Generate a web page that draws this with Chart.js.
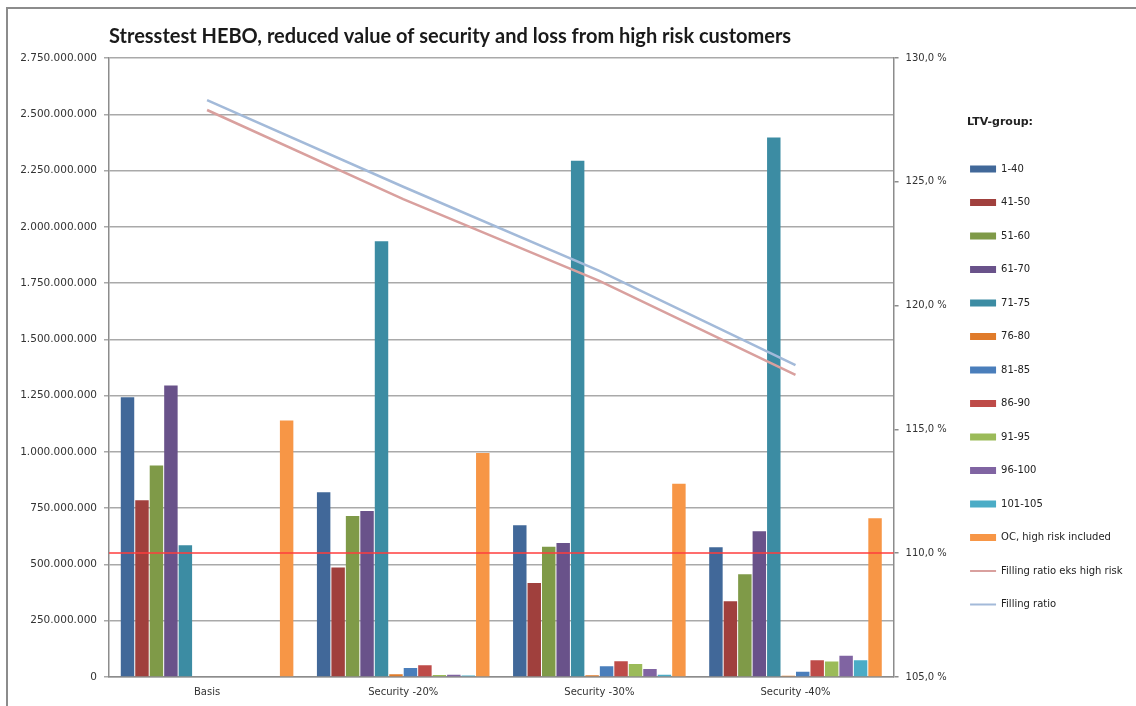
<!DOCTYPE html>
<html>
<head>
<meta charset="utf-8">
<script src="https://cdn.jsdelivr.net/npm/chart.js@4/dist/chart.umd.min.js"></script>
<style>
  html, body { margin: 0; padding: 0; background: #ffffff; }
  #wrap { width: 1136px; height: 706px; position: relative; }
</style>
</head>
<body>
<div id="wrap"><canvas id="chart" width="1136" height="706"></canvas></div>
<script>
// Scenarios on the category axis
const categories = ['Basis', 'Security -20%', 'Security -30%', 'Security -40%'];

// LTV groups (legend labels for the bar series)
const ltvGroups = ['1-40', '41-50', '51-60', '61-70', '71-75', '76-80', '81-85', '86-90', '91-95', '96-100', '101-105'];

// Amount per LTV group and scenario
const ltv_1_40    = [1243000000,  821000000,  674000000,  576000000];
const ltv_41_50   = [ 785000000,  486000000,  418000000,  337000000];
const ltv_51_60   = [ 940000000,  715000000,  579000000,  457000000];
const ltv_61_70   = [1295000000,  737000000,  595000000,  647000000];
const ltv_71_75   = [ 585000000, 1936000000, 2293000000, 2397000000];
const ltv_76_80   = [         0,   12000000,    8000000,    6000000];
const ltv_81_85   = [         0,   40000000,   48000000,   23000000];
const ltv_86_90   = [         0,   52000000,   70000000,   74000000];
const ltv_91_95   = [         0,    9000000,   58000000,   69000000];
const ltv_96_100  = [         0,   10000000,   35000000,   94000000];
const ltv_101_105 = [         0,    7000000,   10000000,   74000000];

// Over-collateralisation including high risk customers
const ocHighRisk = [1140000000, 995000000, 858000000, 705000000];

// Filling ratios (percent, right axis)
const fillingRatioEksHighRisk = [127.9, 124.3, 121.0, 117.2];
const fillingRatio            = [128.3, 124.8, 121.4, 117.6];

// Minimum required filling ratio (percent, right axis)
const minFillingRatio = 110;

// Axis ranges and tick steps
const amountAxis = { min: 0, max: 2750000000, step: 250000000 };
const ratioAxis  = { min: 105, max: 130, step: 5 };

const ltvValues = [ltv_1_40, ltv_41_50, ltv_51_60, ltv_61_70, ltv_71_75, ltv_76_80,
                   ltv_81_85, ltv_86_90, ltv_91_95, ltv_96_100, ltv_101_105];

const ltvColors = ['#416899', '#A0403D', '#7F9A48', '#69528A', '#3C8CA3', '#E07B2A',
                   '#4A7EBB', '#BE4B48', '#9BBB59', '#8064A2', '#4BACC6'];
const ocColor = '#F79646';
const eksColor = '#D9A09E';
const ratioColor = '#A3BAD9';
const thresholdColor = 'rgba(255, 60, 60, 0.75)';
const gridColor = '#a9a9a9';
const axisColor = '#8c8c8c';
const tickFont = { family: 'DejaVu Sans', size: 10 };

function formatAmount(v) {
  return String(Math.round(v)).replace(/\B(?=(\d{3})+(?!\d))/g, '.');
}
function formatPercent(v) {
  return v.toFixed(1).replace('.', ',') + ' %';
}

const datasets = ltvGroups.map((name, i) => ({
  type: 'bar',
  label: name,
  data: ltvValues[i],
  backgroundColor: ltvColors[i],
  borderWidth: 0,
  yAxisID: 'y',
  order: 1
}));
datasets.push({
  type: 'bar',
  label: 'OC, high risk included',
  data: ocHighRisk,
  backgroundColor: ocColor,
  borderWidth: 0,
  yAxisID: 'y',
  order: 1
});
datasets.push({
  type: 'line',
  label: 'Filling ratio eks high risk',
  data: fillingRatioEksHighRisk,
  borderColor: eksColor,
  backgroundColor: eksColor,
  borderWidth: 2.5,
  pointRadius: 0,
  tension: 0,
  yAxisID: 'y2',
  order: 0
});
datasets.push({
  type: 'line',
  label: 'Filling ratio',
  data: fillingRatio,
  borderColor: ratioColor,
  backgroundColor: ratioColor,
  borderWidth: 2.5,
  pointRadius: 0,
  tension: 0,
  yAxisID: 'y2',
  order: 0
});

// White page with the thin frame along the top and left edge
const framePlugin = {
  id: 'frame',
  beforeDraw(chart) {
    const ctx = chart.ctx;
    ctx.save();
    ctx.fillStyle = '#ffffff';
    ctx.fillRect(0, 0, chart.width, chart.height);
    ctx.strokeStyle = '#8c8c8c';
    ctx.lineWidth = 2;
    ctx.beginPath();
    ctx.moveTo(7, chart.height);
    ctx.lineTo(7, 8);
    ctx.lineTo(chart.width, 8);
    ctx.stroke();
    ctx.restore();
  }
};

// Horizontal line at the minimum filling ratio, across the plot
const thresholdPlugin = {
  id: 'threshold',
  afterDatasetsDraw(chart) {
    const { ctx, chartArea } = chart;
    const y = Math.round(chart.scales.y2.getPixelForValue(minFillingRatio));
    ctx.save();
    ctx.strokeStyle = thresholdColor;
    ctx.lineWidth = 2;
    ctx.beginPath();
    ctx.moveTo(chartArea.left, y);
    ctx.lineTo(chartArea.right, y);
    ctx.stroke();
    ctx.restore();
  }
};

// Heading above the legend entries, aligned with the swatches
const legendHeadingPlugin = {
  id: 'legendHeading',
  afterDraw(chart) {
    const lg = chart.legend;
    if (!lg) return;
    const ctx = chart.ctx;
    ctx.save();
    ctx.fillStyle = '#222222';
    ctx.font = 'bold 11px "DejaVu Sans"';
    ctx.textAlign = 'left';
    ctx.textBaseline = 'middle';
    ctx.fillText('LTV-group:', lg.left + lg.options.labels.padding - 3, lg.top + 122);
    ctx.restore();
  }
};

new Chart(document.getElementById('chart'), {
  data: { labels: categories, datasets },
  options: {
    responsive: false,
    animation: false,
    devicePixelRatio: 1,
    layout: { padding: { left: 0, right: 3.5, top: 0, bottom: 0 } },
    datasets: {
      bar: { categoryPercentage: 0.885, barPercentage: 0.93 }
    },
    plugins: {
      title: {
        display: true,
        text: 'Stresstest HEBO, reduced value of security and loss from high risk customers',
        align: 'start',
        fullSize: false,
        color: '#1a1a1a',
        font: { family: 'Lato', size: 20, weight: 'bold', lineHeight: 1.2 },
        padding: { top: 25, bottom: 9 }
      },
      legend: {
        display: true,
        position: 'right',
        align: 'start',
        title: {
          display: true,
          text: '',
          font: { family: 'DejaVu Sans', size: 10, lineHeight: 1.2 },
          padding: { top: 0, bottom: 128.5 }
        },
        labels: {
          color: '#222222',
          font: { family: 'DejaVu Sans', size: 10 },
          padding: 23.5,
          usePointStyle: true,
          pointStyleWidth: 26,
          boxHeight: 7,
          sort: (a, b) => a.datasetIndex - b.datasetIndex,
          generateLabels(chart) {
            const items = Chart.defaults.plugins.legend.labels.generateLabels(chart);
            return items.map(item => {
              const ds = chart.data.datasets[item.datasetIndex];
              if (ds.type === 'line') {
                item.pointStyle = 'line';
                item.strokeStyle = ds.borderColor;
                item.fillStyle = ds.borderColor;
                item.lineWidth = 2;
              } else {
                item.pointStyle = 'rect';
                item.fillStyle = ds.backgroundColor;
                item.strokeStyle = ds.backgroundColor;
                item.lineWidth = 0;
              }
              return item;
            });
          }
        }
      },
      tooltip: { enabled: false }
    },
    scales: {
      x: {
        type: 'category',
        offset: true,
        grid: { display: true, drawOnChartArea: false, drawTicks: false },
        border: { display: true, color: axisColor, width: 1.5 },
        ticks: { color: '#333333', font: tickFont, padding: 9, maxRotation: 0 },
        afterFit(scale) { scale.height = 29; }
      },
      y: {
        type: 'linear',
        position: 'left',
        min: amountAxis.min,
        max: amountAxis.max,
        grid: { color: gridColor, lineWidth: 1.5, tickLength: 5, drawTicks: true },
        border: { display: true, color: axisColor, width: 1.5 },
        ticks: {
          stepSize: amountAxis.step,
          color: '#333333',
          font: { family: 'DejaVu Sans', size: 10.5 },
          padding: 7,
          callback: v => formatAmount(v)
        },
        afterFit(scale) { scale.width = 109; }
      },
      y2: {
        type: 'linear',
        position: 'right',
        min: ratioAxis.min,
        max: ratioAxis.max,
        grid: { drawOnChartArea: false, color: axisColor, lineWidth: 1.5, tickLength: 5, drawTicks: true },
        border: { display: true, color: axisColor, width: 1.5 },
        ticks: {
          stepSize: ratioAxis.step,
          color: '#333333',
          font: tickFont,
          padding: 7,
          callback: v => formatPercent(v)
        },
        afterFit(scale) { scale.width = 53; }
      }
    }
  },
  plugins: [framePlugin, thresholdPlugin, legendHeadingPlugin]
});
</script>
</body>
</html>
